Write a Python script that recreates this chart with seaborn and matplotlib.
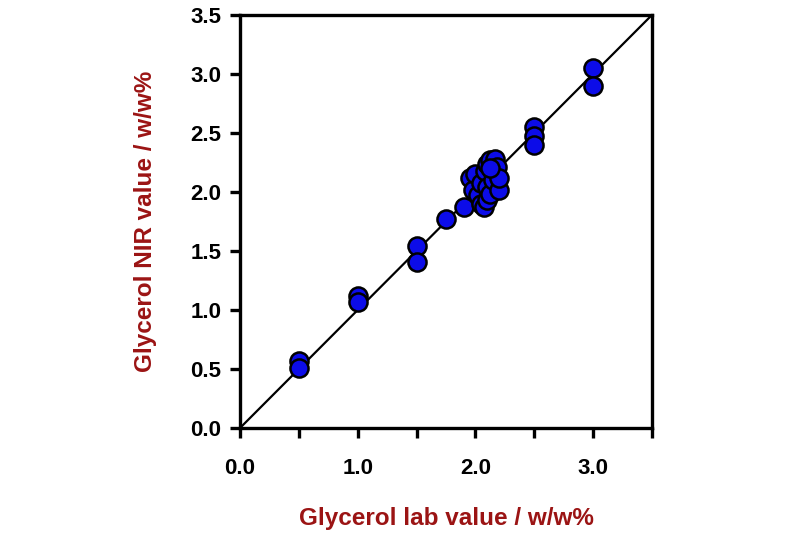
import numpy as np
import pandas as pd
import matplotlib
matplotlib.use("Agg")
import matplotlib.pyplot as plt
import seaborn as sns

# lab reference values vs NIR predictions (w/w%)
lab_value = [0.5, 0.5, 1.0, 1.0, 1.5, 1.5, 1.75, 1.9,
             1.95, 1.98, 2.0, 2.02, 2.05, 2.05, 2.07, 2.08, 2.1, 2.1, 2.1,
             2.12, 2.12, 2.15, 2.15, 2.17, 2.18, 2.2, 2.2, 2.12,
             2.5, 2.5, 2.5, 3.0, 3.0]
nir_value = [0.57, 0.51, 1.12, 1.07, 1.54, 1.41, 1.77, 1.87,
             2.12, 2.02, 2.15, 1.97, 2.08, 1.90, 1.87, 2.18, 2.04, 2.24, 1.93,
             2.27, 1.98, 2.16, 2.10, 2.28, 2.21, 2.02, 2.12, 2.20,
             2.55, 2.47, 2.40, 3.05, 2.90]
x_ticks = [0.0, 0.5, 1.0, 1.5, 2.0, 2.5, 3.0, 3.5]
x_tick_labels = ["0.0", "", "1.0", "", "2.0", "", "3.0", ""]
y_ticks = [0.0, 0.5, 1.0, 1.5, 2.0, 2.5, 3.0, 3.5]

df = pd.DataFrame({"lab": lab_value, "nir": nir_value})

sns.set_style("ticks")
plt.rcParams["font.family"] = ["Liberation Sans", "DejaVu Sans"]

fig = plt.figure(figsize=(8, 5.33), dpi=100)
ax = fig.add_axes([0.30, 0.197, 0.515, 0.775])

# 1:1 line
ax.plot([0, 3.5], [0, 3.5], color="black", lw=1.6, zorder=1)

sns.scatterplot(data=df, x="lab", y="nir", ax=ax, s=170, color="#0c0ce8",
                edgecolor="black", linewidth=1.8, zorder=3, legend=False)

ax.set_xlim(0, 3.5)
ax.set_ylim(0, 3.5)
ax.set_xticks(x_ticks)
ax.set_xticklabels(x_tick_labels)
ax.set_yticks(y_ticks)
ax.set_yticklabels([f"{v:.1f}" for v in y_ticks])

for sp in ax.spines.values():
    sp.set_linewidth(2.4)
    sp.set_color("black")
    sp.set_visible(True)

ax.tick_params(axis="both", direction="out", length=7.5, width=2.4,
               labelsize=16, colors="black")
ax.tick_params(axis="y", pad=6)
ax.tick_params(axis="x", pad=14)
for lbl in ax.get_xticklabels() + ax.get_yticklabels():
    lbl.set_fontweight("bold")

red = "#9b1414"
ax.set_xlabel("Glycerol lab value / w/w%", fontsize=17.5, fontweight="bold",
              color=red, labelpad=20)
ax.set_ylabel("Glycerol NIR value / w/w%", fontsize=17.5, fontweight="bold",
              color=red, labelpad=24)

fig.savefig("out.png", dpi=100, facecolor="white")
